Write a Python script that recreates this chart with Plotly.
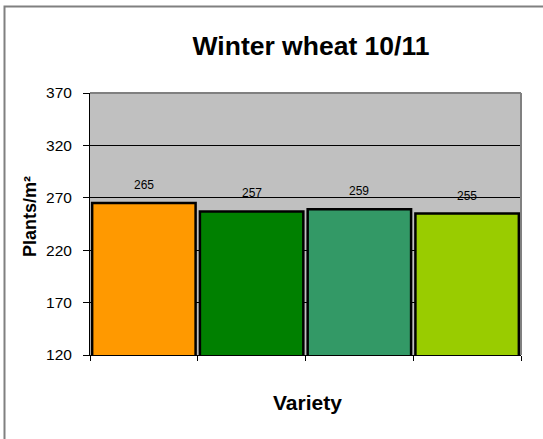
import plotly.graph_objects as go

varieties = ["Variety 1", "Variety 2", "Variety 3", "Variety 4"]
plants = [265, 257, 259, 255]
bar_colors = ["#FF9900", "#008000", "#339966", "#99CC00"]
y_ticks = [120, 170, 220, 270, 320, 370]

FONT = "Liberation Sans, Arial, sans-serif"

# plot area in pixels: x 90..521, y 93..355
PL, PR, PT, PB = 90, 521, 93, 355
PW, PH = PR - PL, PB - PT


def px(x):
    return (x - PL) / PW


def py(y):
    return (PB - y) / PH


fig = go.Figure(
    go.Bar(
        x=varieties,
        y=plants,
        marker=dict(color=bar_colors, line=dict(color="black", width=2.5)),
        hoverinfo="x+y",
    )
)

annotations = [
    dict(x=v, y=p, xref="x", yref="y", text=str(p), showarrow=False,
         yanchor="bottom", yshift=9, font=dict(size=12, family=FONT, color="black"))
    for v, p in zip(varieties, plants)
]
annotations += [
    dict(text="<b>Plants/m²</b>", textangle=-90, xref="paper", yref="paper",
         x=px(30), y=py(217), xanchor="center", yanchor="middle", showarrow=False,
         font=dict(size=18, family=FONT, color="black")),
    dict(text="<b>Variety</b>", xref="paper", yref="paper",
         x=px(307), y=py(402), xanchor="center", yanchor="middle", showarrow=False,
         font=dict(size=21, family=FONT, color="black")),
]

fig.update_layout(
    width=543,
    height=439,
    margin=dict(l=PL, r=543 - PR, t=PT, b=439 - PB),
    paper_bgcolor="white",
    plot_bgcolor="#C0C0C0",
    bargap=0.04,
    showlegend=False,
    font=dict(family=FONT, color="black"),
    title=dict(
        text="<b>Winter wheat 10/11</b>",
        font=dict(size=26.5, family=FONT, color="black"),
        x=px(311),
        xref="paper",
        xanchor="center",
        y=1 - 46 / 439,
        yref="container",
        yanchor="middle",
    ),
    xaxis=dict(
        showticklabels=False,
        ticks="outside",
        tickson="boundaries",
        ticklen=5,
        tickcolor="black",
        showline=True,
        linecolor="black",
        linewidth=1,
        showgrid=False,
    ),
    yaxis=dict(
        range=[120, 370],
        tickvals=y_ticks,
        ticks="outside",
        ticklen=6,
        tickcolor="black",
        ticklabelstandoff=8,
        tickfont=dict(size=15.5, family=FONT),
        showline=True,
        linecolor="black",
        linewidth=1,
        showgrid=True,
        gridcolor="black",
        gridwidth=1,
        zeroline=False,
    ),
    annotations=annotations,
    shapes=[
        dict(type="line", xref="paper", yref="paper", x0=0, x1=1, y0=1, y1=1,
             line=dict(color="#808080", width=2)),
        dict(type="line", xref="paper", yref="paper", x0=1, x1=1, y0=0, y1=1,
             line=dict(color="#808080", width=2)),
        dict(type="rect", xref="paper", yref="paper",
             x0=px(4.5), x1=px(560), y0=py(460), y1=py(6.5),
             line=dict(color="#808080", width=2), layer="above"),
    ],
)

fig.write_html(
    "out.html",
    config={"displayModeBar": False},
    post_script="document.body.style.margin='0';document.body.style.overflow='hidden';",
)
